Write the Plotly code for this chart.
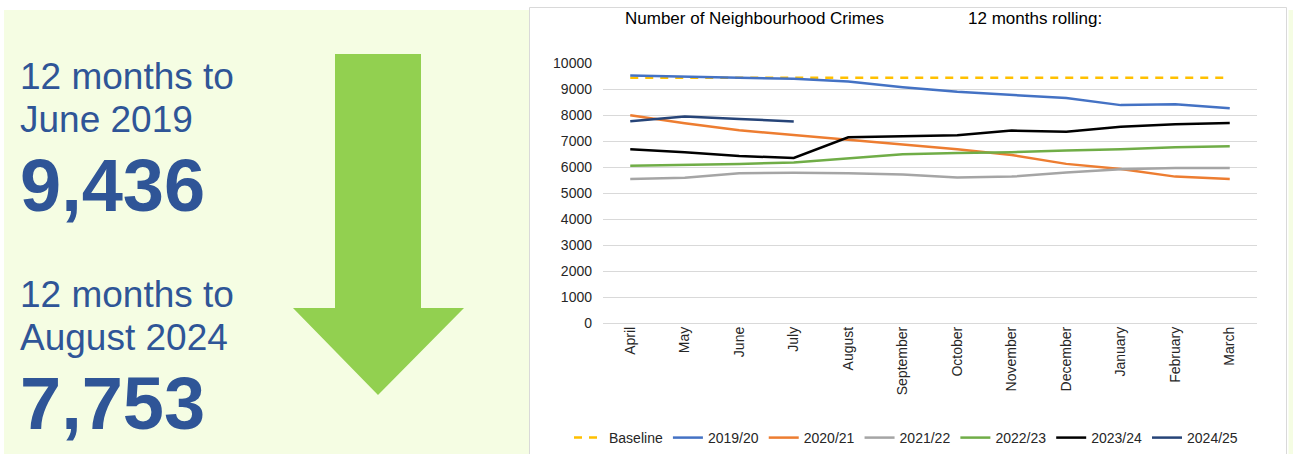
import plotly.graph_objects as go

# ---------------- data ----------------
months = ["April", "May", "June", "July", "August", "September",
          "October", "November", "December", "January", "February", "March"]
baseline = [9436, 9436, 9436, 9436, 9436, 9436, 9436, 9436, 9436, 9436, 9436, 9436]
s2019_20 = [9520, 9480, 9420, 9390, 9290, 9070, 8890, 8780, 8650, 8380, 8410, 8260]
s2020_21 = [7990, 7680, 7410, 7230, 7040, 6880, 6680, 6460, 6120, 5920, 5630, 5540]
s2021_22 = [5540, 5590, 5760, 5780, 5760, 5710, 5600, 5630, 5790, 5910, 5960, 5960]
s2022_23 = [6050, 6080, 6120, 6170, 6330, 6490, 6540, 6570, 6630, 6680, 6760, 6800]
s2023_24 = [6680, 6570, 6420, 6350, 7140, 7170, 7220, 7400, 7360, 7550, 7640, 7690]
s2024_25 = [7760, 7940, 7850, 7753]
series_names = ["Baseline", "2019/20", "2020/21", "2021/22", "2022/23", "2023/24", "2024/25"]
series_values = [baseline, s2019_20, s2020_21, s2021_22, s2022_23, s2023_24, s2024_25]
series_colors = ["#FFC000", "#4472C4", "#ED7D31", "#A5A5A5", "#70AD47", "#000000", "#264478"]

panel_lines = ["12 months to", "June 2019", "9,436", "12 months to", "August 2024", "7,753"]
chart_title_left = "Number of Neighbourhood Crimes"
chart_title_right = "12 months rolling:"

# ---------------- geometry helpers (pixels -> paper) ----------------
W, H = 1293, 454
L, R, T, B = 603, 1257, 63, 323


def px(x):
    return (x - L) / (R - L)


def py(y):
    return (B - y) / (B - T)


fig = go.Figure()
for name, vals, col in zip(series_names, series_values, series_colors):
    fig.add_trace(go.Scatter(
        x=months[:len(vals)], y=vals, name=name, mode="lines",
        line=dict(color=col, width=2.5, dash="8px,7px" if name == "Baseline" else "solid"),
    ))

TXT = "Liberation Sans, Arial, sans-serif"
BLUE = "#2F5597"

shapes = [
    # left light-green panel
    dict(type="rect", xref="paper", yref="paper", x0=px(4), x1=px(529), y0=py(10), y1=py(460),
         fillcolor="#F5FDE3", line=dict(width=0), layer="below"),
    # right thin green strip
    dict(type="rect", xref="paper", yref="paper", x0=px(1288.5), x1=px(1300), y0=py(10), y1=py(460),
         fillcolor="#F5FDE3", line=dict(width=0), layer="below"),
    # chart border
    dict(type="rect", xref="paper", yref="paper", x0=px(529.5), x1=px(1286.5), y0=py(7.5), y1=py(470),
         fillcolor="white", line=dict(color="#D9D9D9", width=1), layer="below"),
]
arrow_pts = [(335, 54), (421, 54), (421, 308), (464, 308), (378, 395), (293, 308), (335, 308)]
path = "M " + " L ".join(f"{px(x):.5f},{py(y):.5f}" for x, y in arrow_pts) + " Z"
shapes.append(dict(type="path", xref="paper", yref="paper", path=path,
                   fillcolor="#92D050", line=dict(width=0), layer="below"))

annotations = []
centres = [76, 119, 185, 294, 337, 403]
for text, cy in zip(panel_lines, centres):
    big = text[0].isdigit() and "," in text
    annotations.append(dict(
        text=f"<b>{text}</b>" if big else text, xref="paper", yref="paper",
        x=px(18), y=py(cy), xanchor="left", yanchor="middle", showarrow=False,
        font=dict(family=TXT, size=74 if big else 37, color=BLUE)))

annotations.append(dict(text=chart_title_left, xref="paper", yref="paper", x=px(623), y=py(19),
                        xanchor="left", yanchor="middle", showarrow=False,
                        font=dict(family=TXT, size=17, color="#000000")))
annotations.append(dict(text=chart_title_right, xref="paper", yref="paper", x=px(966), y=py(19),
                        xanchor="left", yanchor="middle", showarrow=False,
                        font=dict(family=TXT, size=17, color="#000000")))

fig.update_layout(
    width=W, height=H,
    margin=dict(l=L, r=W - R, t=T, b=H - B, pad=0, autoexpand=False),
    paper_bgcolor="white", plot_bgcolor="rgba(0,0,0,0)",
    font=dict(family=TXT, size=14, color="#262626"),
    shapes=shapes, annotations=annotations,
    showlegend=True,
    legend=dict(orientation="h", xref="paper", yref="paper",
                x=px(569), xanchor="left", y=py(438), yanchor="middle",
                bgcolor="rgba(0,0,0,0)", font=dict(family=TXT, size=14, color="#262626"),
                traceorder="normal", itemwidth=30),
    xaxis=dict(type="category", categoryorder="array", categoryarray=months,
               range=[-0.5, 11.5], showgrid=False, zeroline=False, showline=False,
               tickangle=-90, ticks="", tickfont=dict(family=TXT, size=14, color="#262626"),
               fixedrange=True),
    yaxis=dict(range=[0, 10000], dtick=1000, tick0=0, tickformat="d",
               showgrid=True, gridcolor="#D9D9D9", gridwidth=1,
               zeroline=True, zerolinecolor="#D9D9D9", zerolinewidth=1,
               showline=False, ticks="", ticklabelstandoff=10,
               tickfont=dict(family=TXT, size=14, color="#262626"), fixedrange=True),
)

fig.write_html("out.html", config={"displayModeBar": False, "staticPlot": True},
               post_script="document.body.style.margin='0';document.body.style.overflow='hidden';")
